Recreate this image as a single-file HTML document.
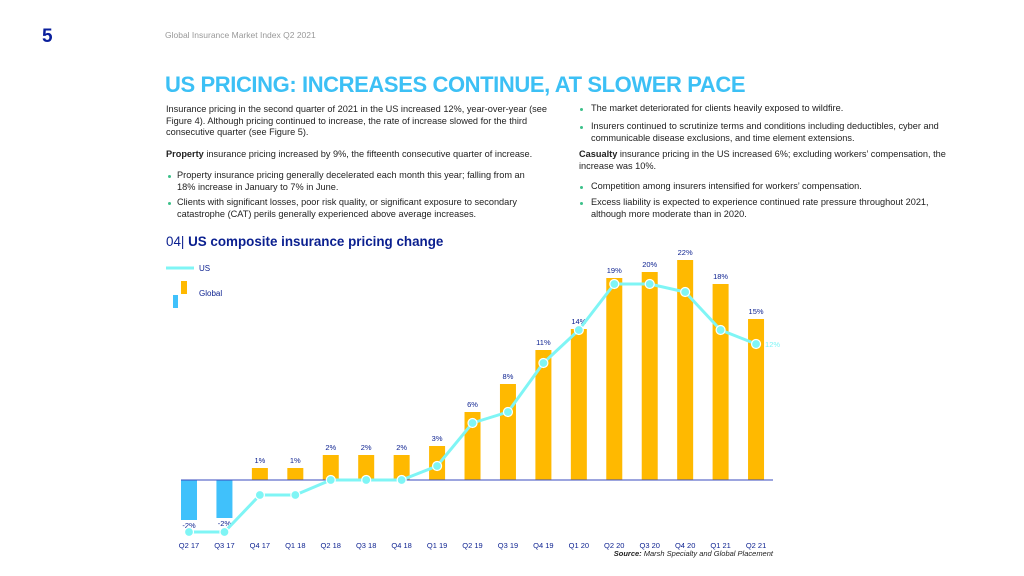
<!DOCTYPE html>
<html><head><meta charset="utf-8">
<style>
body{margin:0;width:1024px;height:576px;background:#fff;position:relative;overflow:hidden;font-family:"Liberation Sans",sans-serif;}
.t{position:absolute;font-size:9.2px;line-height:11.5px;color:#222;white-space:nowrap;}
.b{position:absolute;width:3px;height:3px;background:#3cc08a;border-radius:50%;}
</style></head><body>
<div style="position:absolute;left:42px;top:26px;font-size:19px;font-weight:bold;color:#0a1f9c;">5</div>
<div style="position:absolute;left:165px;top:30px;font-size:8.5px;color:#999;">Global Insurance Market Index Q2 2021</div>
<div style="position:absolute;left:165px;top:72px;font-size:22px;font-weight:bold;color:#3cc0f5;letter-spacing:-0.4px;">US PRICING: INCREASES CONTINUE, AT SLOWER PACE</div>

<div class="t" style="left:166px;top:104px;">Insurance pricing in the second quarter of 2021 in the US increased 12%, year-over-year (see<br>Figure 4). Although pricing continued to increase, the rate of increase slowed for the third<br>consecutive quarter (see Figure 5).</div>
<div class="t" style="left:166px;top:149px;"><b>Property</b> insurance pricing increased by 9%, the fifteenth consecutive quarter of increase.</div>
<div class="b" style="left:168px;top:175px;"></div>
<div class="t" style="left:177px;top:170px;">Property insurance pricing generally decelerated each month this year; falling from an<br>18% increase in January to 7% in June.</div>
<div class="b" style="left:168px;top:202px;"></div>
<div class="t" style="left:177px;top:197px;">Clients with significant losses, poor risk quality, or significant exposure to secondary<br>catastrophe (CAT) perils generally experienced above average increases.</div>

<div class="b" style="left:580px;top:108px;"></div>
<div class="t" style="left:591px;top:103px;">The market deteriorated for clients heavily exposed to wildfire.</div>
<div class="b" style="left:580px;top:126px;"></div>
<div class="t" style="left:591px;top:121px;">Insurers continued to scrutinize terms and conditions including deductibles, cyber and<br>communicable disease exclusions, and time element extensions.</div>
<div class="t" style="left:579px;top:149px;"><b>Casualty</b> insurance pricing in the US increased 6%; excluding workers’ compensation, the<br>increase was 10%.</div>
<div class="b" style="left:580px;top:186px;"></div>
<div class="t" style="left:591px;top:181px;">Competition among insurers intensified for workers’ compensation.</div>
<div class="b" style="left:580px;top:202px;"></div>
<div class="t" style="left:591px;top:197px;">Excess liability is expected to experience continued rate pressure throughout 2021,<br>although more moderate than in 2020.</div>

<div style="position:absolute;left:166px;top:234px;font-size:13.4px;color:#0a1f8f;"><span style="font-weight:normal">04|</span> <b>US composite insurance pricing change</b></div>

<svg id="chart" width="1024" height="576" style="position:absolute;left:0;top:0;" xmlns="http://www.w3.org/2000/svg">
<line x1="166" y1="268" x2="194" y2="268" stroke="#7ff5f5" stroke-width="3"/>
<text x="199" y="271" font-size="8" fill="#0a1f8f" font-family="Liberation Sans">US</text>
<rect x="181" y="281" width="6" height="13" fill="#ffb900"/>
<rect x="173" y="295" width="5" height="13" fill="#40c1fb"/>
<text x="199" y="296" font-size="8" fill="#0a1f8f" font-family="Liberation Sans">Global</text>
<text x="773" y="556" text-anchor="end" font-size="7.5" font-style="italic" fill="#222" font-family="Liberation Sans"><tspan font-weight="bold">Source:</tspan> Marsh Specialty and Global Placement</text>
<g id="plot"></g>
</svg>

<script>
const categories = ["Q2 17","Q3 17","Q4 17","Q1 18","Q2 18","Q3 18","Q4 18","Q1 19","Q2 19","Q3 19","Q4 19","Q1 20","Q2 20","Q3 20","Q4 20","Q1 21","Q2 21"];
const globalValues = [-4,-3.8,1.2,1.2,2.5,2.5,2.5,3.4,6.8,9.6,13,15.1,20.2,20.8,22,19.6,16.1];
const globalLabels = ["-2%","-2%","1%","1%","2%","2%","2%","3%","6%","8%","11%","14%","19%","20%","22%","18%","15%"];
const usValues = [-5.2,-5.2,-1.5,-1.5,0,0,0,1.4,5.7,6.8,11.7,15,19.6,19.6,18.8,15,13.6];
const usLastLabel = "12%";

const NS="http://www.w3.org/2000/svg";
const g=document.getElementById('plot');
const x0=189, step=35.44, zeroY=480, pxPer=10;
const xs=i=>x0+i*step;
const ys=v=>zeroY-v*pxPer;
function mk(tag,attrs){const e=document.createElementNS(NS,tag);for(const k in attrs)e.setAttribute(k,attrs[k]);g.appendChild(e);return e;}

globalValues.forEach((v,i)=>{
  const y=Math.min(ys(v),zeroY), h=Math.abs(ys(v)-zeroY);
  const r=mk('rect',{x:xs(i)-8,y:y,width:16,height:h,fill:v<0?'#40c1fb':'#ffb900'});
  
  
  const t=mk('text',{x:xs(i),y:v<0?ys(v)+8:ys(v)-5,'text-anchor':'middle','font-size':'7.5',fill:'#0a1f8f','font-family':'Liberation Sans'});
  t.textContent=globalLabels[i];
  
  
  const c=mk('text',{x:xs(i),y:548,'text-anchor':'middle','font-size':'7.5',fill:'#0a1f8f','font-family':'Liberation Sans'});
  c.textContent=categories[i];
  
  
});
const ax=mk('line',{x1:181,y1:zeroY,x2:773,y2:zeroY,stroke:'#3a4bbf','stroke-width':1});


const pl=mk('polyline',{points:usValues.map((v,i)=>xs(i)+','+ys(v)).join(' '),fill:'none',stroke:'#7ff5f5','stroke-width':3});


usValues.forEach((v,i)=>{
  const c=mk('circle',{cx:xs(i),cy:ys(v),r:4.5,fill:'#7ff5f5',stroke:'#fff','stroke-width':1.2});
  
  
});
const ll=mk('text',{x:xs(usValues.length-1)+9,y:ys(usValues[usValues.length-1])+3,'font-size':'7.5',fill:'#7ff5f5','font-family':'Liberation Sans'});
ll.textContent=usLastLabel;


</script>
</body></html>
